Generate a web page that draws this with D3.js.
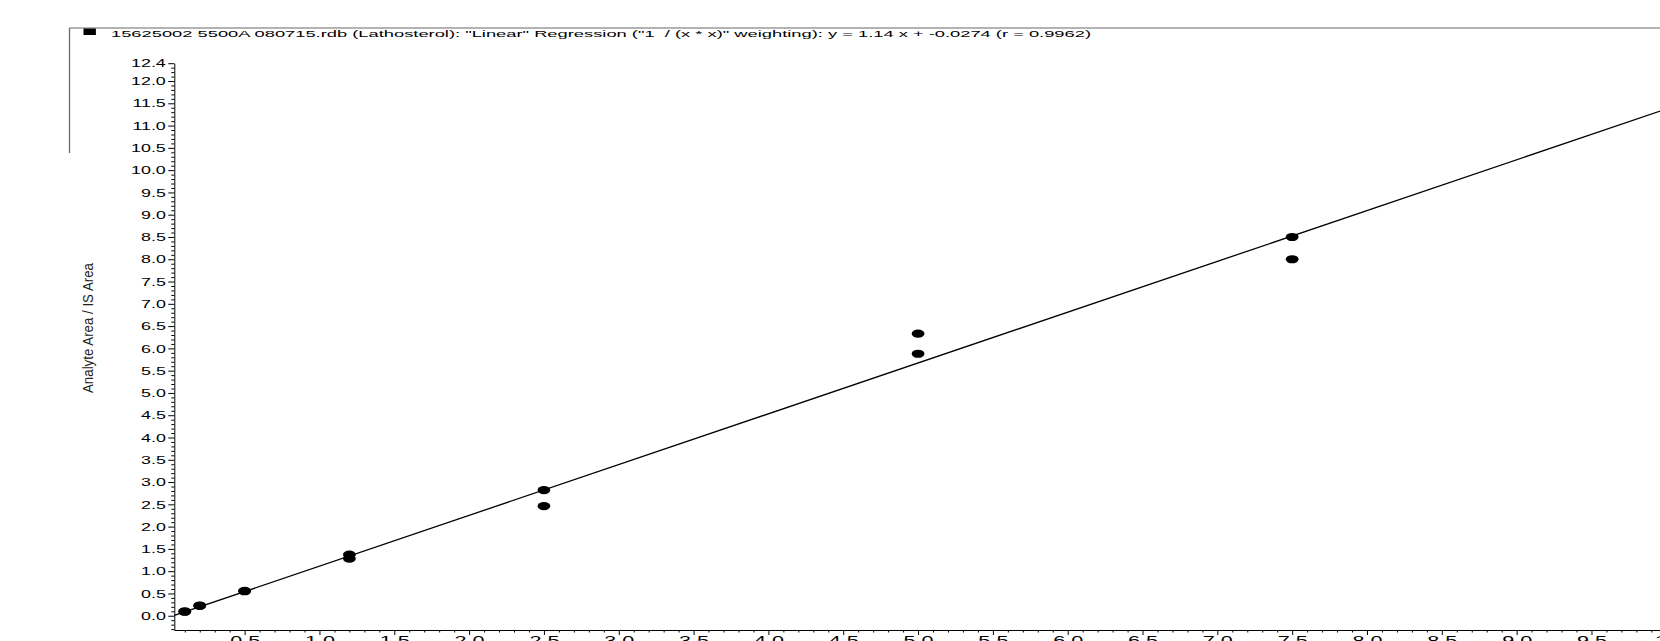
<!DOCTYPE html>
<html>
<head>
<meta charset="utf-8">
<script src="https://cdn.jsdelivr.net/npm/d3@7"></script>
<style>
  html, body { margin: 0; padding: 0; background: #fff; overflow: hidden; }
  svg { display: block; font-family: "Liberation Sans", Arial, sans-serif; }
</style>
</head>
<body>
<svg id="chart" width="1660" height="641"></svg>
<script>
// ---- data ----
const titleText = '15625002 5500A 080715.rdb (Lathosterol): "Linear" Regression ("1  / (x * x)" weighting): y = 1.14 x + -0.0274 (r = 0.9962)';
const yLabel = "Analyte Area / IS Area";
const concentrations = [0.1, 0.1, 0.2, 0.2, 0.5, 0.5, 1.2, 1.2, 2.5, 2.5, 5.0, 5.0, 7.5, 7.5];
const ratios =         [0.09, 0.10, 0.22, 0.23, 0.56, 0.55, 1.37, 1.28, 2.82, 2.46, 6.33, 5.88, 8.50, 8.00];
const slope = 1.14;
const intercept = -0.0274;
const xDomain = [0.03, 10.0];
const yDomain = [-0.32, 12.4];
const xMajorTicks = [0.5,1.0,1.5,2.0,2.5,3.0,3.5,4.0,4.5,5.0,5.5,6.0,6.5,7.0,7.5,8.0,8.5,9.0,9.5,10];
const yMajorTicks = [0.0,0.5,1.0,1.5,2.0,2.5,3.0,3.5,4.0,4.5,5.0,5.5,6.0,6.5,7.0,7.5,8.0,8.5,9.0,9.5,10.0,10.5,11.0,11.5,12.0,12.4];

// ---- layout ----
const svg = d3.select("#chart");
const x = d3.scaleLinear().domain(xDomain).range([174.3, 1666.3]);
const y = d3.scaleLinear().domain(yDomain).range([630, 63.2]);

// frame lines (gray)
svg.append("line").attr("x1", 69.5).attr("x2", 1660).attr("y1", 28).attr("y2", 28)
  .attr("stroke", "#9a9a9a").attr("stroke-width", 1.3);
svg.append("line").attr("x1", 69.5).attr("x2", 69.5).attr("y1", 28).attr("y2", 153)
  .attr("stroke", "#6a6a6a").attr("stroke-width", 1.3);

// legend square + title
svg.append("rect").attr("x", 83.5).attr("y", 28.5).attr("width", 12.4).attr("height", 6.5).attr("fill", "#000");
svg.append("text").attr("x", 111).attr("y", 36.7)
  .attr("font-size", 9.8).attr("fill", "#000")
  .style("white-space", "pre")
  .attr("textLength", 980).attr("lengthAdjust", "spacingAndGlyphs")
  .text(titleText);

// y axis label
svg.append("text")
  .attr("transform", "translate(93.3,328) rotate(-90)")
  .attr("text-anchor", "middle")
  .attr("font-size", 15.5).attr("fill", "#222")
  .attr("textLength", 130).attr("lengthAdjust", "spacingAndGlyphs")
  .text(yLabel);

// minor tick values (every 0.1)
const yMinor = d3.range(-3, 124).map(d => d / 10).filter(v => Math.abs(v * 2 - Math.round(v * 2)) > 1e-6);
const xMinor = d3.range(1, 100).map(d => d / 10).filter(v => Math.abs(v * 2 - Math.round(v * 2)) > 1e-6);

// y axis
const gy = svg.append("g").attr("transform", `translate(${x.range()[0]},0)`);
gy.append("g").call(d3.axisLeft(y).tickValues(yMinor).tickSize(3).tickFormat(""))
  .call(g => g.select(".domain").remove());
gy.append("g").call(d3.axisLeft(y).tickValues(yMajorTicks).tickSize(6).tickSizeOuter(0).tickPadding(3)
    .tickFormat(d3.format(".1f")))
  .call(g => g.selectAll("text")
      .attr("x", 0).attr("dy", "0.36em")
      .attr("transform", "translate(-8.5,0) scale(1.75,1)")
      .attr("font-size", 10.2).attr("fill", "#000")
      .attr("font-family", "Liberation Sans, Arial, sans-serif"));
gy.selectAll("line, path").attr("stroke", "#000");

// x axis
const gx = svg.append("g").attr("transform", `translate(0,${y.range()[0]})`);
gx.append("g").call(d3.axisBottom(x).tickValues(xMinor).tickSize(2.5).tickFormat(""))
  .call(g => g.select(".domain").remove());
gx.append("g").call(d3.axisBottom(x).tickValues(xMajorTicks).tickSize(5).tickSizeOuter(0)
    .tickFormat(d => d === 10 ? "10" : d3.format(".1f")(d)))
  .call(g => g.selectAll("text")
      .attr("y", 6).attr("dy", "0.72em")
      .attr("transform", "scale(1.8,1)")
      .attr("font-size", 12).attr("fill", "#000")
      .attr("font-family", "Liberation Sans, Arial, sans-serif"));
gx.selectAll("line, path").attr("stroke", "#000");

// regression line
const fitX = xDomain;
svg.append("path")
  .datum(fitX.map(v => [v, slope * v + intercept]))
  .attr("d", d3.line().x(d => x(d[0])).y(d => y(d[1])))
  .attr("stroke", "#000").attr("stroke-width", 1.3).attr("fill", "none");

// points
svg.append("g").selectAll("ellipse")
  .data(concentrations.map((c, i) => [c, ratios[i]]))
  .join("ellipse")
  .attr("cx", d => x(d[0])).attr("cy", d => y(d[1]))
  .attr("rx", 6.4).attr("ry", 4.1).attr("fill", "#000");
</script>
</body>
</html>
